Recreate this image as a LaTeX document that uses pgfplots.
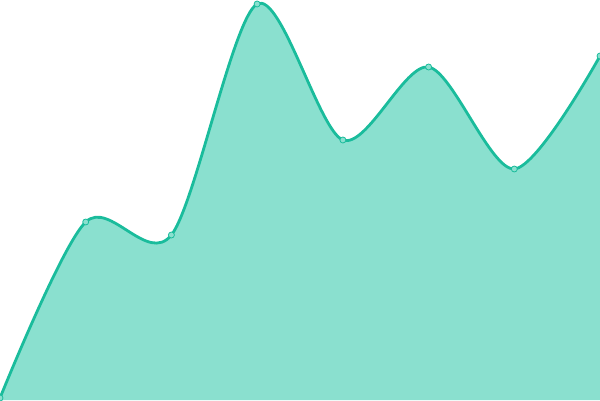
\documentclass[border=0pt]{standalone}
\usepackage{pgfplots}
\pgfplotsset{compat=1.18}
\definecolor{ln}{RGB}{26,188,156}
\definecolor{fl}{RGB}{138,224,207}
\begin{document}
\begin{tikzpicture}
\begin{axis}[scale only axis, width=600pt, height=400pt, hide axis,
  xmin=0, xmax=600, ymin=0, ymax=400, clip=true]
\addplot[fill=fl, draw=none, smooth, tension=0.5] coordinates {
(0,2) (85.7,178) (171.4,165) (257.1,396) (342.9,260) (428.6,333) (514.3,231) (600,344)} \closedcycle;
\addplot[ln, line width=2.8pt, smooth, tension=0.5] coordinates {
(0,2) (85.7,178) (171.4,165) (257.1,396) (342.9,260) (428.6,333) (514.3,231) (600,344)};
\addplot[only marks, mark=*, mark size=3pt, mark options={fill=fl, draw=ln, line width=0.8pt}] coordinates {
(0,2) (85.7,178) (171.4,165) (257.1,396) (342.9,260) (428.6,333) (514.3,231) (600,344)};
\end{axis}
\pgfresetboundingbox
\path[use as bounding box] (current axis.south west) rectangle (current axis.north east);
\end{tikzpicture}
\end{document}
